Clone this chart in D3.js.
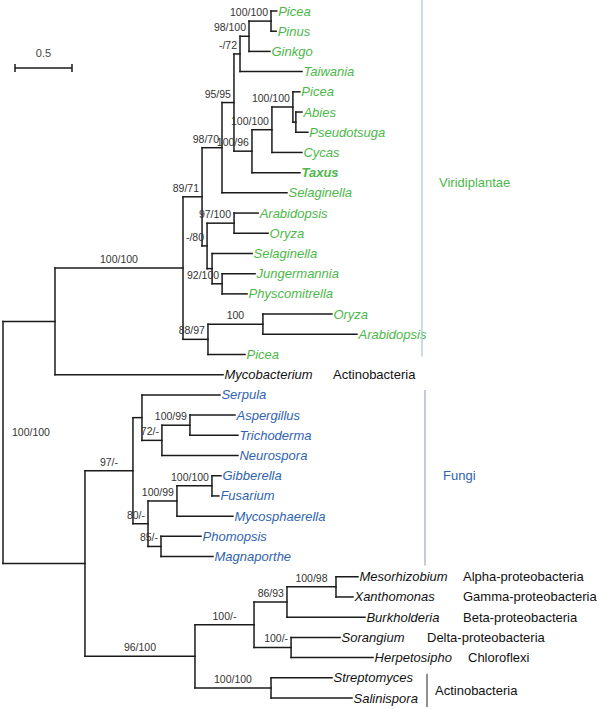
<!DOCTYPE html>
<html><head><meta charset="utf-8">
<script src="https://cdn.jsdelivr.net/npm/d3@7"></script>
<style>body{margin:0;background:#fff} svg{display:block}</style>
</head><body>
<svg id="c" width="600" height="709"></svg>
<script>
// ---------- DATA ----------
const taxa = ["Picea","Pinus","Ginkgo","Taiwania","Picea","Abies","Pseudotsuga","Cycas","Taxus","Selaginella",
  "Arabidopsis","Oryza","Selaginella","Jungermannia","Physcomitrella","Oryza","Arabidopsis","Picea",
  "Mycobacterium","Serpula","Aspergillus","Trichoderma","Neurospora","Gibberella","Fusarium","Mycosphaerella",
  "Phomopsis","Magnaporthe","Mesorhizobium","Xanthomonas","Burkholderia","Sorangium","Herpetosipho",
  "Streptomyces","Salinispora"];
const taxonGroup = ["V","V","V","V","V","V","V","V","V","V","V","V","V","V","V","V","V","V",
  "B","F","F","F","F","F","F","F","F","F","B","B","B","B","B","B","B"];
const boldTaxa = ["L8"];

const nodeId =     ["root","A","B","P","L18","P1","P8","P2","P9","P3","L9","P4","P5","P6","L3","P7","L2","L0","L1",
  "P10","L8","P11","L7","L4","P12","L5","L6","P13","P14","L10","L11","L12","P15","L13","L14","P16","L17","L15","L16",
  "F","C","F1","F2","L19","F3","F4","L22","L20","L21","F5","F6","F7","L25","L23","L24","L26","L27",
  "D","E","D1","D2","D3","L30","L28","L29","L31","L32","L33","L34"];
const nodeParent = ["","root","root","A","A","P","P","P1","P1","P2","P2","P3","P3","P4","P4","P6","P6","P7","P7",
  "P5","P5","P10","P10","P11","P11","P12","P12","P9","P9","P13","P13","P14","P14","P15","P15","P8","P8","P16","P16",
  "B","B","F","F","F1","F1","F3","F3","F4","F4","F2","F2","F5","F5","F7","F7","F6","F6",
  "C","C","D","D","D1","D1","D3","D3","D2","D2","E","E"];
const branchLength = [0,0.456,0.719,1.123,1.474,0.167,0.219,0.175,0.044,0.105,0.570,0.053,0.158,0.079,0.544,0.193,0.184,0.050,0.045,
  0.175,0.421,0.184,0.263,0.061,0.026,0.053,0.105,0.237,0.044,0.211,0.298,0.351,0.088,0.289,0.219,0.482,0.325,0.605,0.825,
  0.421,0.965,0.079,0.132,0.684,0.175,0.246,0.667,0.395,0.421,0.254,0.114,0.307,0.491,0.079,0.061,0.351,0.456,
  0.518,0.667,0.289,0.325,0.430,0.684,0.193,0.149,0.430,0.719,0.535,0.711];
const support = ["100/100","","","100/100","","89/71","88/97","98/70","-/80","95/95","","-/72","100/96","98/100","","100/100","","","",
  "100/100","","100/100","","","","","","97/100","","","","","92/100","","","100","","","",
  "97/-","96/100","","80/-","","72/-","100/99","","","","100/99","85/-","100/100","","","","","",
  "100/-","100/100","86/93","100/-","100/98","","","","","","",""];

const scaleBarValue = 0.5;
const cladeNames = ["Viridiplantae","Fungi"];
const cladeGroups = ["V","F"];
const lineageNames = ["Actinobacteria","Alpha-proteobacteria","Gamma-proteobacteria","Beta-proteobacteria",
  "Delta-proteobacteria","Chloroflexi","Actinobacteria"];
const lineageLeaves = [[18],[28],[29],[30],[31],[32],[33,34]];

// ---------- LAYOUT ----------
const colors = {V:"#4db84a", F:"#2f63ae", B:"#111"};
const cladeLineColor = {V:"#a9cdd2", F:"#a7add0"};
const fontFam = "'Liberation Sans', Arial, Helvetica, sans-serif";
const lineageX = [333,463,463,463,427,468,435];

const svg = d3.select("#c");
const x = d3.scaleLinear().domain([0,1]).range([3,117]);
const y = d3.scaleLinear().domain([0,taxa.length-1]).range([11,698]);

const rows = nodeId.map((id,i)=>({id, parent:nodeParent[i], len:branchLength[i], support:support[i]}));
const root = d3.stratify().id(d=>d.id).parentId(d=>d.parent===""?null:d.parent)(rows);
root.eachBefore(n=>{ n.dist = n.parent ? n.parent.dist + n.data.len : 0; n.px = x(n.dist); });
root.eachAfter(n=>{
  if(!n.children){ n.leafIndex = +n.id.slice(1); n.py = y(n.leafIndex); }
  else { const ys = n.children.map(c=>c.py); n.py = (d3.min(ys)+d3.max(ys))/2; }
});

const g = svg.append("g");
const stroke = "#1a1a1a", sw = 1.5;
// horizontal branches
g.selectAll("line.h").data(root.descendants().filter(n=>n.parent)).join("line")
  .attr("x1",n=>n.parent.px).attr("x2",n=>n.px).attr("y1",n=>n.py).attr("y2",n=>n.py)
  .attr("stroke",stroke).attr("stroke-width",sw).attr("stroke-linecap","square");
// vertical connectors
g.selectAll("line.v").data(root.descendants().filter(n=>n.children)).join("line")
  .attr("x1",n=>n.px).attr("x2",n=>n.px)
  .attr("y1",n=>d3.min(n.children,c=>c.py)).attr("y2",n=>d3.max(n.children,c=>c.py))
  .attr("stroke",stroke).attr("stroke-width",sw).attr("stroke-linecap","square");

// leaf labels
const leaves = root.leaves();
const leafText = g.selectAll("text.leaf").data(leaves).join("text")
  .attr("x",n=>n.px+1.5).attr("y",n=>n.py+4.5)
  .attr("font-family",fontFam).attr("font-size",13).attr("font-style","italic")
  .attr("font-weight",n=>boldTaxa.includes(n.id)?"bold":"normal")
  .attr("fill",n=>colors[taxonGroup[n.leafIndex]])
  .text(n=>taxa[n.leafIndex]);

// support labels
const supNodes = root.descendants().filter(n=>n.data.support);
g.selectAll("text.sup").data(supNodes).join("text")
  .attr("font-family",fontFam).attr("font-size",10.5).attr("fill","#333")
  .each(function(n){
    const t = d3.select(this);
    if(!n.parent){ t.attr("x",n.px+9).attr("y",n.py-6).attr("text-anchor","start"); }
    else {
      const len = n.px - n.parent.px;
      if(len>45) t.attr("x",(n.px+n.parent.px)/2).attr("text-anchor","middle");
      else t.attr("x",n.px-3).attr("text-anchor","end");
      t.attr("y",n.py-5);
    }
  })
  .text(n=>n.data.support);

// scale bar
const sbx0 = 15, sbx1 = sbx0 + (x(scaleBarValue)-x(0)), sby = 68;
g.append("line").attr("x1",sbx0).attr("x2",sbx1).attr("y1",sby).attr("y2",sby).attr("stroke",stroke).attr("stroke-width",1.5);
[sbx0,sbx1].forEach(v=>g.append("line").attr("x1",v).attr("x2",v).attr("y1",sby-4).attr("y2",sby+4).attr("stroke",stroke).attr("stroke-width",1.5));
g.append("text").attr("x",(sbx0+sbx1)/2).attr("y",sby-11).attr("text-anchor","middle")
  .attr("font-family",fontFam).attr("font-size",11).attr("fill","#444").text(String(scaleBarValue));

// clade bars
const cladeLX = [422,425];
cladeGroups.forEach((grp,i)=>{
  const idx = taxonGroup.map((gg,j)=>gg===grp?j:-1).filter(j=>j>=0);
  const y0 = i===0 ? 0 : y(d3.min(idx))-5, y1 = y(d3.max(idx))+ (i===0?2:9);
  g.append("line").attr("x1",cladeLX[i]).attr("x2",cladeLX[i]).attr("y1",y0).attr("y2",y1)
    .attr("stroke",cladeLineColor[grp]).attr("stroke-width",1.3);
  g.append("text").attr("x",cladeLX[i]+(i===0?17:18)).attr("y",(y(d3.min(idx))+y(d3.max(idx)))/2+4.5)
    .attr("font-family",fontFam).attr("font-size",13).attr("fill",colors[grp]).text(cladeNames[i]);
});

// lineage annotations
lineageNames.forEach((nm,i)=>{
  const ls = lineageLeaves[i];
  const ym = (y(ls[0])+y(ls[ls.length-1]))/2;
  if(ls.length>1){
    g.append("line").attr("x1",lineageX[i]-8).attr("x2",lineageX[i]-8)
      .attr("y1",y(ls[0])-4).attr("y2",y(ls[ls.length-1])+9).attr("stroke","#222").attr("stroke-width",1);
  }
  g.append("text").attr("x",lineageX[i]).attr("y",ym+(ls.length>1?7:4.5))
    .attr("font-family",fontFam).attr("font-size",13).attr("fill","#111").text(nm);
});
</script>
</body></html>
